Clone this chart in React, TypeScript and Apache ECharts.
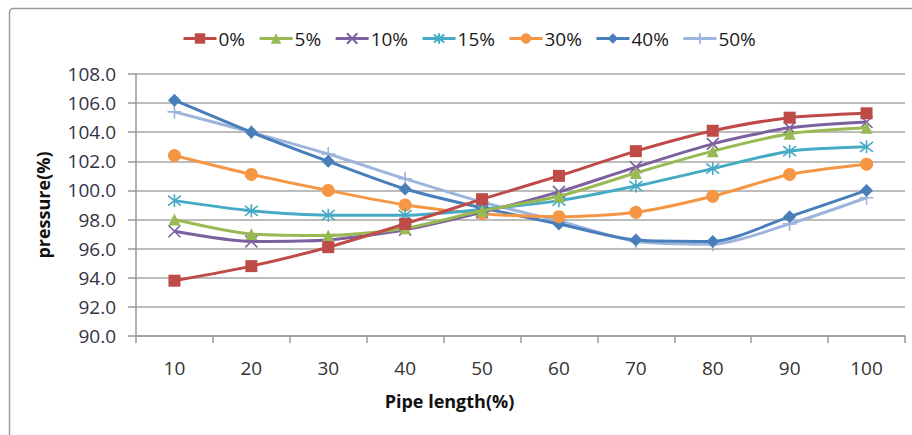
import React, { useEffect, useRef } from "react";
import * as echarts from "echarts";

const categories = ["10", "20", "30", "40", "50", "60", "70", "80", "90", "100"];
const seriesNames = ["0%", "5%", "10%", "15%", "30%", "40%", "50%"];
const s0 = [93.8, 94.8, 96.1, 97.7, 99.4, 101.0, 102.7, 104.1, 105.0, 105.3];
const s5 = [98.0, 97.0, 96.9, 97.4, 98.6, 99.6, 101.2, 102.7, 103.9, 104.3];
const s10 = [97.2, 96.5, 96.6, 97.3, 98.5, 99.9, 101.6, 103.2, 104.3, 104.7];
const s15 = [99.3, 98.6, 98.3, 98.3, 98.7, 99.3, 100.3, 101.5, 102.7, 103.0];
const s30 = [102.4, 101.1, 100.0, 99.0, 98.4, 98.2, 98.5, 99.6, 101.1, 101.8];
const s40 = [106.2, 104.0, 102.0, 100.1, 98.8, 97.7, 96.6, 96.5, 98.2, 100.0];
const s50 = [105.4, 104.0, 102.5, 100.8, 99.2, 97.9, 96.5, 96.3, 97.7, 99.5];
const seriesData = [s0, s5, s10, s15, s30, s40, s50];
const colors = ["#BE4B48", "#98B954", "#7D60A0", "#46AAC5", "#F59645", "#4A7EBB", "#9DB4DC"];
const symbols = [
  "rect",
  "triangle",
  "path://M0,0L10,10M10,0L0,10",
  "path://M0,0L10,10M10,0L0,10M5,-1.5L5,11.5",
  "circle",
  "diamond",
  "path://M5,0L5,10M0,5L10,5",
];
const symbolSizes = [12, 12, 12, 13, 13, 13, 14];
const stroked = [false, false, true, true, false, false, true];

const FONT = "'Open Sans', 'Noto Sans', sans-serif";

export default function App() {
  const ref = useRef<HTMLDivElement>(null);
  useEffect(() => {
    if (!ref.current) return;
    const chart = echarts.init(ref.current, null, { renderer: "svg" });
    chart.setOption({
      animation: false,
      backgroundColor: "#ffffff",
      textStyle: { fontFamily: FONT },
      graphic: [
        {
          type: "rect",
          shape: { x: 9.5, y: 8.5, width: 930, height: 460, r: 4 },
          style: { fill: "none", stroke: "#9a9a9a", lineWidth: 1.5 },
          z: -1,
        },
      ],
      legend: {
        left: 177,
        top: 24,
        itemWidth: 33,
        itemHeight: 13,
        itemGap: 13,
        lineStyle: { width: 3 },
        textStyle: { fontSize: 19, color: "#1a1a1a", fontFamily: FONT, padding: [0, 0, 0, -3] },
        data: seriesNames,
      },
      grid: { left: 136, right: 7, top: 74, bottom: 99 },
      xAxis: {
        type: "category",
        data: categories,
        boundaryGap: true,
        axisLine: { show: true, lineStyle: { color: "#9a9a9a", width: 1.5 } },
        axisTick: { show: true, length: 7, alignWithLabel: false, lineStyle: { color: "#9a9a9a", width: 1.5 } },
        axisLabel: { fontSize: 19, color: "#333333", margin: 22, fontFamily: FONT },
        name: "Pipe length(%)",
        nameLocation: "middle",
        nameGap: 56,
        nameTextStyle: { fontSize: 18, fontWeight: "bold", color: "#111111", fontFamily: FONT, padding: [0, 142, 0, 0] },
      },
      yAxis: {
        type: "value",
        min: 90,
        max: 108,
        interval: 2,
        axisLine: { show: true, lineStyle: { color: "#9a9a9a", width: 1.5 } },
        axisTick: { show: true, length: 8, lineStyle: { color: "#9a9a9a", width: 1.5 } },
        axisLabel: {
          fontSize: 19,
          color: "#333345",
          margin: 20,
          fontFamily: FONT,
          formatter: (v: number) => v.toFixed(1),
        },
        splitLine: { show: true, lineStyle: { color: "#a6a6a6", width: 1.5 } },
        name: "pressure(%)",
        nameLocation: "middle",
        nameGap: 84,
        nameTextStyle: { fontSize: 18, fontWeight: "bold", color: "#111111", fontFamily: FONT },
      },
      series: seriesNames.map((name, i) => ({
        name,
        type: "line",
        data: seriesData[i],
        smooth: 0.25,
        symbol: symbols[i],
        symbolSize: symbolSizes[i],
        showAllSymbol: true,
        lineStyle: { color: colors[i], width: 3 },
        itemStyle: stroked[i]
          ? { color: colors[i], borderColor: colors[i], borderWidth: 1.6 }
          : { color: colors[i], borderWidth: 0 },
        z: 10 - i,
      })),
    });
    return () => chart.dispose();
  }, []);
  return (
    <div
      ref={ref}
      style={{ position: "fixed", left: 0, top: 0, width: 912, height: 435, background: "#fff" }}
    />
  );
}
